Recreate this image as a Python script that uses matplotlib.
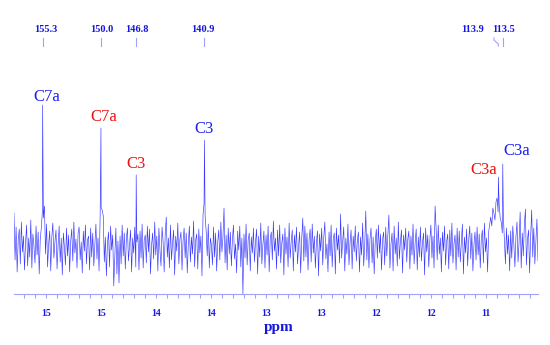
import numpy as np
import matplotlib
matplotlib.use("Agg")
import matplotlib.pyplot as plt

# peaks (ppm/10 scale as on the axis) and heights above baseline
peak_ppm = [15.53, 15.00, 14.68, 14.06, 11.39, 11.35]
peak_height = [14.3, 12.0, 7.3, 10.8, 7.1, 8.4]
peak_names = ["C7a", "C7a", "C3", "C3", "C3a", "C3a"]
peak_colors = ["#2020ee", "#ee1111", "#ee1111", "#2020ee", "#ee1111", "#2020ee"]
shift_labels = ["155.3", "150.0", "146.8", "140.9", "113.9", "113.5"]

tick_pos = [15.5, 15.0, 14.5, 14.0, 13.5, 13.0, 12.5, 12.0, 11.5]
tick_labels = ["15", "15", "14", "14", "13", "13", "12", "12", "11"]

# baseline noise (left to right)
noise = [
    3.5, -1.2, 2.1, -2.4, 0.8, 1.9, -1.6, 2.6, -0.4, 1.2, -2.2, 0.5, 2.3, -1.8, 1.0, -0.9, 2.8, -2.0, 1.4, 0.2,
    -1.5, 2.2, -0.7, 1.6, -2.6, 0.9, 2.0, 3.6, 3.0, 4.2, -0.6, 2.4, -1.9, 0.4, 1.7, -2.3, 1.1, 2.5, -1.0, 0.6,
    1.8, -2.1, 0.3, 2.2, -1.4, 1.0, -2.7, 1.5, 0.1, -1.7, 2.0, -0.8, 1.3, -2.4, 0.7, 1.9, -1.3, 2.6, -0.5, 0.9,
    -2.0, 1.4, 2.1, -1.2, 0.6, -2.5, 1.7, -0.3, 2.3, -1.6, 0.8, 1.2, -2.2, 2.0, -0.9, 1.5, -1.8, 0.4, 2.4, -1.1,
    1.0, -2.3, 3.0, 4.0, 3.8, 3.2, -1.4, 1.1, -2.8, 0.5, 1.6, -1.9, 2.2, -0.2, 1.3, -3.8, -1.0, 2.0, -2.6, 0.7,
    -3.5, 1.2, -1.6, 2.3, -0.8, 1.5, -2.1, 0.9, 2.0, -1.3, 0.2, 1.8, -2.4, 1.0, -0.5, 2.1, -1.9, 0.6, 1.4, -2.2,
    1.7, -1.0, 2.4, -2.0, 0.8, 1.3, -1.5, 2.2, -0.4, 1.9, -2.6, 0.3, 1.5, -1.1, 2.6, -0.7, 1.2, -2.3, 2.0, -0.2,
    -1.8, 2.1, 0.6, -2.4, 1.4, 3.1, -0.9, 1.0, -2.0, 2.3, -1.2, 0.5, 1.8, -2.7, 1.2, -0.3, 2.5, -1.6, 0.9, 1.6,
    -2.2, 0.7, 2.0, -1.0, 1.5, -2.5, 0.4, 2.2, -1.4, 1.1, -0.6, 2.7, -1.9, 0.8, 1.4, -2.1, 1.9, -0.5, 1.2, -2.8,
    3.3, 4.5, 3.2, 1.7, -0.8, 2.4, -2.0, 1.0, 0.3, -1.7, 2.1, -0.9, 1.5, -2.3, 0.6, 1.8, -1.2, 2.6, -0.4, 1.1,
    4.0, -1.5, 1.3, -2.2, 2.0, -0.6, 1.6, -1.8, 0.9, 2.3, -1.1, 0.4, -2.5, 1.7, -0.2, 2.2, -1.9, 1.0, -4.6, 1.4,
    -1.0, 2.4, -1.7, 0.8, 1.5, -2.3, 1.1, -0.5, 2.0, -1.4, 0.6, 1.9, -2.6, 1.2, -0.9, 2.5, -1.6, 0.3, 1.7, -2.0,
    1.3, -0.7, 2.2, -2.4, 0.9, 1.6, -1.2, 2.7, -0.3, 1.0, -2.1, 1.8, -0.8, 2.3, -1.5, 0.5, 1.4, -2.7, 2.0, -0.6,
    1.1, -1.9, 2.5, -1.0, 0.7, 1.8, -2.3, 1.3, -0.4, 2.1, -1.6, 0.2, 1.6, -2.5, 1.0, 3.0, -1.3, 2.2, -0.9, 1.5,
    -2.2, 0.8, 1.9, -1.4, 2.4, -0.5, 1.2, -2.0, 0.6, 1.7, -2.8, 1.4, -0.3, 2.0, -1.7, 1.1, 2.6, -1.1, 0.4, -2.4,
    1.6, -0.8, 2.3, -1.9, 0.9, 1.5, -2.6, 2.0, -0.2, 1.3, -1.5, 3.4, -1.0, 0.7, 2.1, -2.3, 1.0, -0.6, 2.4, -1.7,
    0.5, 1.8, -2.1, 1.2, -0.4, 2.2, -1.3, 0.8, 1.6, -2.4, 1.1, -0.7, 2.5, -1.8, 0.3, 3.7, -1.2, 1.4, -2.0, 0.9,
    2.0, -1.5, 1.1, -2.6, 0.6, 1.9, -1.0, 2.3, -0.5, 1.4, -2.2, 0.9, 1.6, -1.7, 2.1, -0.8, 1.2, 3.3, -2.0, 0.4,
    1.5, -2.3, 2.2, -0.6, 1.0, -1.8, 2.6, -1.1, 0.7, 1.8, -2.5, 1.3, -0.2, 2.0, -1.4, 0.9, 1.7, -2.1, 1.2, -0.7,
    2.4, -1.6, 0.5, 1.9, -2.2, 1.1, -0.9, 2.1, -1.3, 0.6, 1.5, -2.7, 2.0, -0.4, 1.3, -1.9, 0.8, 2.3, -1.0, 1.2,
    -2.0, 4.2, 1.9, -1.2, 2.3, -0.6, 1.0, -2.4, 1.6, -0.3, 2.2, -1.7, 0.7, 1.4, -2.1, 1.8, -0.8, 2.5, -1.5, 0.4,
    1.3, -2.2, 2.0, -0.9, 1.7, -1.4, 0.6, 2.4, -2.6, 1.1, -0.5, 1.9, -1.8, 0.8, 2.2, -1.1, 1.5, -2.3, 0.3, 1.6,
    -1.2, 2.1, -0.7, 1.4, -2.0, 0.9, 1.8, -1.5, 2.5, -0.4, 1.0, -2.4, 1.6, 2.4, 3.1, 2.2, 4.0, 3.5, 2.8, 4.6,
    5.0, 3.6, 4.4, 3.0, 2.6, 1.5, 3.2, 0.8, -1.6, 2.0, -0.6, 1.3, -2.3, 1.7, -1.0, 2.2, 0.4, -1.9, 1.1, 2.6,
    -1.4, 0.7, 3.6, -2.0, 1.5, -0.8, 2.3, 3.9, -1.7, 0.9, 1.8, -2.5, 1.2, 3.8, -0.9, 2.0, -1.6, 0.6, 2.9, -1.3,
]

x_left, x_right = 15.79, 11.03
noise_x = np.linspace(x_left, x_right, len(noise))

x_all = np.concatenate([noise_x, peak_ppm])
y_all = np.concatenate([noise, peak_height])
order = np.argsort(x_all)
x_all = x_all[order]
y_all = y_all[order]

blue = "#3a3aff"
light = "#a0a0ff"
serif = ["Liberation Serif", "DejaVu Serif"]

fig = plt.figure(figsize=(5.5, 3.45), dpi=100)
ax = fig.add_axes([14 / 550, 51 / 345, 524 / 550, 274 / 345])
ax.plot(x_all, y_all, color=blue, lw=0.45)
ax.set_xlim(x_left, x_right)
ax.set_ylim(-4.6, 22.8)

for s in ["top", "left", "right"]:
    ax.spines[s].set_visible(False)
ax.spines["bottom"].set_color(light)
ax.spines["bottom"].set_linewidth(0.8)
ax.set_yticks([])
ax.set_xticks(tick_pos)
ax.set_xticklabels(tick_labels, fontfamily=serif, fontweight="bold", fontsize=7, color="#1515e0")
ax.set_xticks(np.arange(15.7, 11.05, -0.1), minor=True)
ax.tick_params(axis="x", which="both", color=light, length=3, width=0.8, pad=8)

fig.text(279 / 550, 1 - 328 / 345, "ppm", fontfamily=serif, fontweight="bold",
         fontsize=11, color="#1515e0", ha="center", va="center")

# peak labels
label_offsets = [(4, 0), (3, 3), (0, 3), (0, 3), (-15, -1), (14, 5)]
for name, px, h, c, off in zip(peak_names, peak_ppm, peak_height, peak_colors, label_offsets):
    ax.annotate(name, (px, h), xytext=off, textcoords="offset pixels",
                ha="center", va="bottom", fontsize=12, color=c, fontfamily=serif)

# chemical shift labels along the top
top_offsets = [3, 1, 1, -2, -26, 1]
for lab, px, off in zip(shift_labels, peak_ppm, top_offsets):
    ax.annotate(lab, (px, 21.8), xytext=(off, 0), textcoords="offset pixels",
                ha="center", va="center", fontsize=7.5, fontweight="bold",
                color="#1515e0", fontfamily=serif)
    if lab == "113.9":
        ax.plot([px + 0.04, px + 0.04, px, px], [21.0, 20.8, 20.4, 20.2], color=light, lw=0.8)
    else:
        ax.plot([px, px], [21.0, 20.2], color=light, lw=0.8)

fig.savefig("out.png", dpi=100)
